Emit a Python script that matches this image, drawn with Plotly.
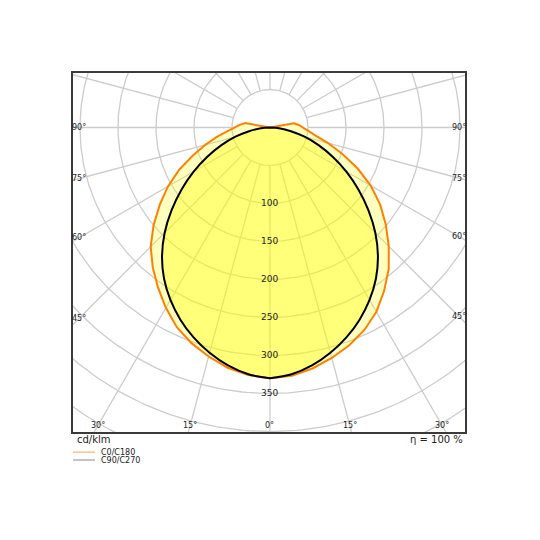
import numpy as np
import plotly.graph_objects as go

# gamma angles (deg from nadir) and intensities in cd/klm
angles = [0, 5, 10, 15, 20, 25, 30, 35, 40, 45, 50, 55, 60, 65, 70, 75, 80, 85, 90, 95, 100, 105]
c0 = [330, 328, 322, 314, 305, 294, 280, 262, 243, 221, 199, 177, 153, 127, 101, 79, 61, 50, 44, 38, 32, 0]
c180 = [330, 327, 321, 312, 302, 290, 274, 257, 240, 222, 200, 177, 155, 132, 108, 88, 71, 56, 47, 40, 33, 0]
c90_c270 = [330, 326, 318, 307, 294, 279, 262, 243, 221, 196, 169, 142, 116, 91, 68, 47, 28, 12, 0, 0, 0, 0]

grid_radii = [50, 100, 150, 200, 250, 300, 350, 400, 450, 500, 550]
radial_labels = [100, 150, 200, 250, 300, 350]
side_angle_labels = [90, 75, 60, 45]
bottom_angle_labels = [30, 15, 0]

XMIN, XMAX = -259.2, 256.6
YMIN, YMAX = -400.7, 71.7
FONT = "DejaVu Sans"


def to_xy(right, left):
    # left half goes from top down to nadir, then right half back up
    a = np.radians(angles)
    xl = -np.array(left) * np.sin(a)
    yl = -np.array(left) * np.cos(a)
    xr = np.array(right) * np.sin(a)
    yr = -np.array(right) * np.cos(a)
    x = np.concatenate([xl[::-1], xr])
    y = np.concatenate([yl[::-1], yr])
    return x, y


fig = go.Figure()

# polar grid: circles
t = np.linspace(0, 2 * np.pi, 361)
for r in grid_radii:
    fig.add_trace(go.Scatter(x=r * np.cos(t), y=r * np.sin(t), mode="lines",
                             line=dict(color="#cccccc", width=1.3),
                             hoverinfo="skip", showlegend=False))

# polar grid: rays every 15 degrees, starting at the 50 circle
rx, ry = [], []
for a in range(0, 360, 15):
    ar = np.radians(a)
    rx += [50 * np.sin(ar), 800 * np.sin(ar), None]
    ry += [-50 * np.cos(ar), -800 * np.cos(ar), None]
fig.add_trace(go.Scatter(x=rx, y=ry, mode="lines", line=dict(color="#cccccc", width=1.3),
                         hoverinfo="skip", showlegend=False))

xo, yo = to_xy(c0, c180)
xb, yb = to_xy(c90_c270, c90_c270)

# fills (translucent yellow, overlap gets stronger)
fig.add_trace(go.Scatter(x=xo, y=yo, mode="none", fill="toself",
                         fillcolor="rgba(255,255,0,0.25)", showlegend=False))
fig.add_trace(go.Scatter(x=xb, y=yb, mode="none", fill="toself",
                         fillcolor="rgba(255,255,0,0.36)", showlegend=False))

# curves
fig.add_trace(go.Scatter(x=xo, y=yo, mode="lines", name="C0/C180",
                         line=dict(color="#ff8000", width=2), showlegend=False))
fig.add_trace(go.Scatter(x=xb, y=yb, mode="lines", name="C90/C270",
                         line=dict(color="#000000", width=2, shape="spline"), showlegend=False))

# radial value labels
for r in radial_labels:
    fig.add_annotation(x=0, y=-r, text=str(r), showarrow=False,
                       font=dict(family=FONT, size=9, color="#222"))

# angle labels along the sides
for a in side_angle_labels:
    ta = np.tan(np.radians(a))
    xl = XMIN + 8
    xr = XMAX - 8
    yl = 0 if a == 90 else xl / ta
    yr = 0 if a == 90 else -xr / ta
    fig.add_annotation(x=xl, y=yl, text=f"{a}°", showarrow=False,
                       font=dict(family=FONT, size=8, color="#222"))
    fig.add_annotation(x=xr, y=yr, text=f"{a}°", showarrow=False,
                       font=dict(family=FONT, size=8, color="#222"))

# angle labels along the bottom
yb_lab = YMIN + 8
for a in bottom_angle_labels:
    xx = -yb_lab * np.tan(np.radians(a))
    for s in ([1] if a == 0 else [-1, 1]):
        fig.add_annotation(x=s * xx, y=yb_lab, text=f"{a}°", showarrow=False,
                           font=dict(family=FONT, size=8, color="#222"))

# texts under the frame
fig.add_annotation(xref="paper", yref="paper", x=0.005, y=-0.02, xanchor="left", yanchor="middle",
                   text="cd/klm", showarrow=False, font=dict(family=FONT, size=10, color="#222"))
fig.add_annotation(xref="paper", yref="paper", x=1.0, y=-0.02, xanchor="right", yanchor="middle",
                   text="η = 100 %", showarrow=False, font=dict(family=FONT, size=10, color="#222"))

# small legend
legend_items = [("C0/C180", "#ffa040", -0.056), ("C90/C270", "#888888", -0.078)]
for name, col, yy in legend_items:
    fig.add_shape(type="line", xref="paper", yref="paper", x0=0, x1=0.056, y0=yy, y1=yy,
                  line=dict(color=col, width=1))
    fig.add_annotation(xref="paper", yref="paper", x=0.066, y=yy, xanchor="left", yanchor="middle",
                       text=name, showarrow=False, font=dict(family=FONT, size=8, color="#222"))

axis_style = dict(showgrid=False, zeroline=False, showticklabels=False, ticks="",
                  showline=True, mirror=True, linecolor="#3a3a3a", linewidth=1.5)
fig.update_xaxes(range=[XMIN, XMAX], **axis_style)
fig.update_yaxes(range=[YMIN, YMAX], **axis_style)
# page body adds ~8px offset, so margins are shifted to keep the frame in place
fig.update_layout(width=540, height=540, autosize=False,
                  margin=dict(l=65, r=83, t=65, b=116),
                  paper_bgcolor="white", plot_bgcolor="white", showlegend=False)

fig.write_html("out.html")
